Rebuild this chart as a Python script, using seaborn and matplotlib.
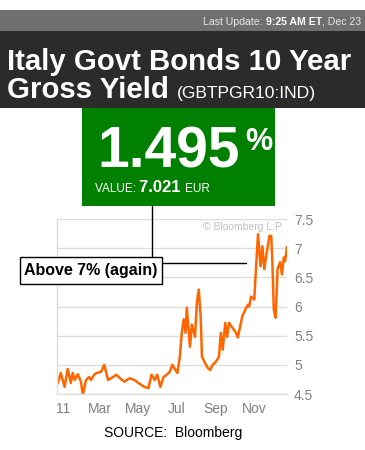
import matplotlib
matplotlib.use("Agg")
import matplotlib.pyplot as plt
from matplotlib.patches import Rectangle
import pandas as pd
import seaborn as sns

# Italy 10Y yield
dates = [
    "2010-12-24", "2010-12-29", "2011-01-04", "2011-01-09", "2011-01-14", "2011-01-17",
    "2011-01-20", "2011-01-25", "2011-01-30", "2011-02-02", "2011-02-07", "2011-02-12",
    "2011-02-15", "2011-02-20", "2011-02-24", "2011-03-03", "2011-03-08", "2011-03-14",
    "2011-03-19", "2011-03-27", "2011-04-02", "2011-04-09", "2011-04-17", "2011-04-25",
    "2011-05-01", "2011-05-11", "2011-05-17", "2011-05-22", "2011-05-27", "2011-05-31",
    "2011-06-05", "2011-06-10", "2011-06-15", "2011-06-20", "2011-06-24", "2011-06-29",
    "2011-07-02", "2011-07-06", "2011-07-09", "2011-07-12", "2011-07-15", "2011-07-17",
    "2011-07-22", "2011-07-25", "2011-07-30", "2011-08-02", "2011-08-05", "2011-08-08",
    "2011-08-10", "2011-08-15", "2011-08-19", "2011-08-23", "2011-08-27", "2011-09-01",
    "2011-09-06", "2011-09-09", "2011-09-12", "2011-09-16", "2011-09-19", "2011-09-22",
    "2011-09-27", "2011-10-02", "2011-10-06", "2011-10-13", "2011-10-18", "2011-10-22",
    "2011-10-24", "2011-10-27", "2011-11-01", "2011-11-04", "2011-11-07", "2011-11-11",
    "2011-11-14", "2011-11-17", "2011-11-20", "2011-11-25", "2011-11-28", "2011-11-30",
    "2011-12-02", "2011-12-05", "2011-12-08", "2011-12-12", "2011-12-15", "2011-12-18",
    "2011-12-20", "2011-12-23",
]
yields = [
    4.68, 4.86, 4.62, 4.93, 4.69, 4.86,
    4.74, 4.84, 4.71, 4.48, 4.74, 4.79,
    4.74, 4.83, 4.86, 4.88, 5.00, 4.74,
    4.77, 4.83, 4.77, 4.71, 4.77, 4.74,
    4.69, 4.62, 4.60, 4.83, 4.74, 4.83,
    4.62, 4.79, 4.83, 4.88, 5.00, 4.91,
    4.86, 5.14, 5.55, 5.78, 5.55, 5.98,
    5.31, 5.69, 5.48, 6.07, 6.29, 5.83,
    5.14, 5.03, 4.95, 4.91, 5.00, 5.05,
    5.14, 5.55, 5.26, 5.72, 5.48, 5.72,
    5.64, 5.57, 5.47, 5.83, 5.95, 6.03,
    6.00, 6.17, 6.12, 6.69, 7.24, 6.69,
    7.03, 6.64, 6.86, 7.21, 7.21, 6.69,
    5.95, 5.81, 6.64, 6.76, 6.55, 6.84,
    6.78, 7.02,
]
x_ticks = ["2011-01-01", "2011-03-01", "2011-05-01", "2011-07-01", "2011-09-01", "2011-11-01"]
x_labels = ["11", "Mar", "May", "Jul", "Sep", "Nov"]
y_ticks = [4.5, 5, 5.5, 6, 6.5, 7, 7.5]
y_labels = ["4.5", "5", "5.5", "6", "6.5", "7", "7.5"]

df = pd.DataFrame({"date": pd.to_datetime(dates), "yield": yields})

sns.set_style("white")
plt.rcParams["font.family"] = ["Liberation Sans", "DejaVu Sans"]

W, H = 365, 450
fig = plt.figure(figsize=(W / 100, H / 100), dpi=100)


def fx(px):
    return px / W


def fy(py):
    return 1 - py / H


# chart
ax = fig.add_axes([fx(57), fy(394), fx(287) - fx(57), fy(219) - fy(394)])
sns.lineplot(data=df, x="date", y="yield", ax=ax, color="#ff6600", linewidth=1.8)
ax.set_xlim(pd.Timestamp("2010-12-23"), pd.Timestamp("2011-12-23"))
ax.set_ylim(4.5, 7.5)
ax.set_yticks(y_ticks)
ax.set_yticklabels(y_labels)
ax.set_xticks(pd.to_datetime(x_ticks))
ax.set_xticklabels(x_labels)
ax.yaxis.tick_right()
ax.tick_params(axis="y", length=0, pad=5, labelsize=10, labelcolor="#808080")
ax.tick_params(axis="x", length=3, color="#dddddd", pad=3, labelsize=10, labelcolor="#808080")
ax.set_xlabel("")
ax.set_ylabel("")
ax.grid(axis="y", color="#dddddd", linewidth=1)
ax.grid(axis="x", visible=False)
for side in ["top", "right"]:
    ax.spines[side].set_visible(False)
for side in ["left", "bottom"]:
    ax.spines[side].set_color("#dddddd")
    ax.spines[side].set_linewidth(1)
ax.text(0.985, 0.955, "© Bloomberg L.P.", transform=ax.transAxes, ha="right", va="center",
        fontsize=7.5, color="#c0c0c0")

# overlay in pixel coordinates for the header boxes and callout
ov = fig.add_axes([0, 0, 1, 1], zorder=5)
ov.set_xlim(0, W)
ov.set_ylim(H, 0)
ov.axis("off")
ov.patch.set_visible(False)

renderer = fig.canvas.get_renderer()


def run_text(x, y, parts, va="baseline", gap=0, right=False):
    # draw text segments one after another; right=True ends the run at x
    texts = [ov.text(x, y, s, ha="left", va=va, **kw) for s, kw in parts]
    widths = [t.get_window_extent(renderer).width for t in texts]
    if right:
        x -= sum(widths) + gap * (len(texts) - 1)
    for t, w in zip(texts, widths):
        t.set_x(x)
        x += w + gap


ov.add_patch(Rectangle((0, 10), W, 21, color="#6f6f6f", lw=0))
ov.add_patch(Rectangle((0, 31), W, 77, color="#2b2b2b", lw=0))
ov.add_patch(Rectangle((82, 108), 193, 98, color="#008000", lw=0))

run_text(361, 25, [
    ("Last Update: ", dict(fontsize=7.6, color="#e8e8e8")),
    ("9:25 AM ET", dict(fontsize=7.6, color="white", fontweight="bold")),
    (", Dec 23", dict(fontsize=7.6, color="#e8e8e8")),
], right=True)

ov.text(7, 70, "Italy Govt Bonds 10 Year", ha="left", va="baseline", fontsize=21.2,
        fontweight="bold", color="white")
run_text(7, 98, [
    ("Gross Yield", dict(fontsize=21.2, fontweight="bold", color="white")),
    ("(GBTPGR10:IND)", dict(fontsize=12.6, color="white")),
], gap=8)

ov.text(97, 168, "1.495", ha="left", va="baseline", fontsize=41, fontweight="bold", color="white")
ov.text(245, 150, "%", ha="left", va="baseline", fontsize=22, fontweight="bold", color="white")
run_text(95, 192, [
    ("VALUE: ", dict(fontsize=8.5, color="white")),
    ("7.021 ", dict(fontsize=12, fontweight="bold", color="white")),
    ("EUR", dict(fontsize=8.5, color="white")),
])

# callout
ov.plot([152, 152], [206, 257], color="black", lw=1)
ov.plot([162, 246], [263, 263], color="black", lw=1)
ov.add_patch(Rectangle((20, 257), 142, 27, facecolor="white", edgecolor="black", lw=1))
ov.text(91, 271, "Above 7% (again)", ha="center", va="center", fontsize=11.5,
        fontweight="bold", color="black")

ov.text(173, 433, "SOURCE:  Bloomberg", ha="center", va="center", fontsize=10, color="black")

fig.savefig("out.png", dpi=100, facecolor="white")
